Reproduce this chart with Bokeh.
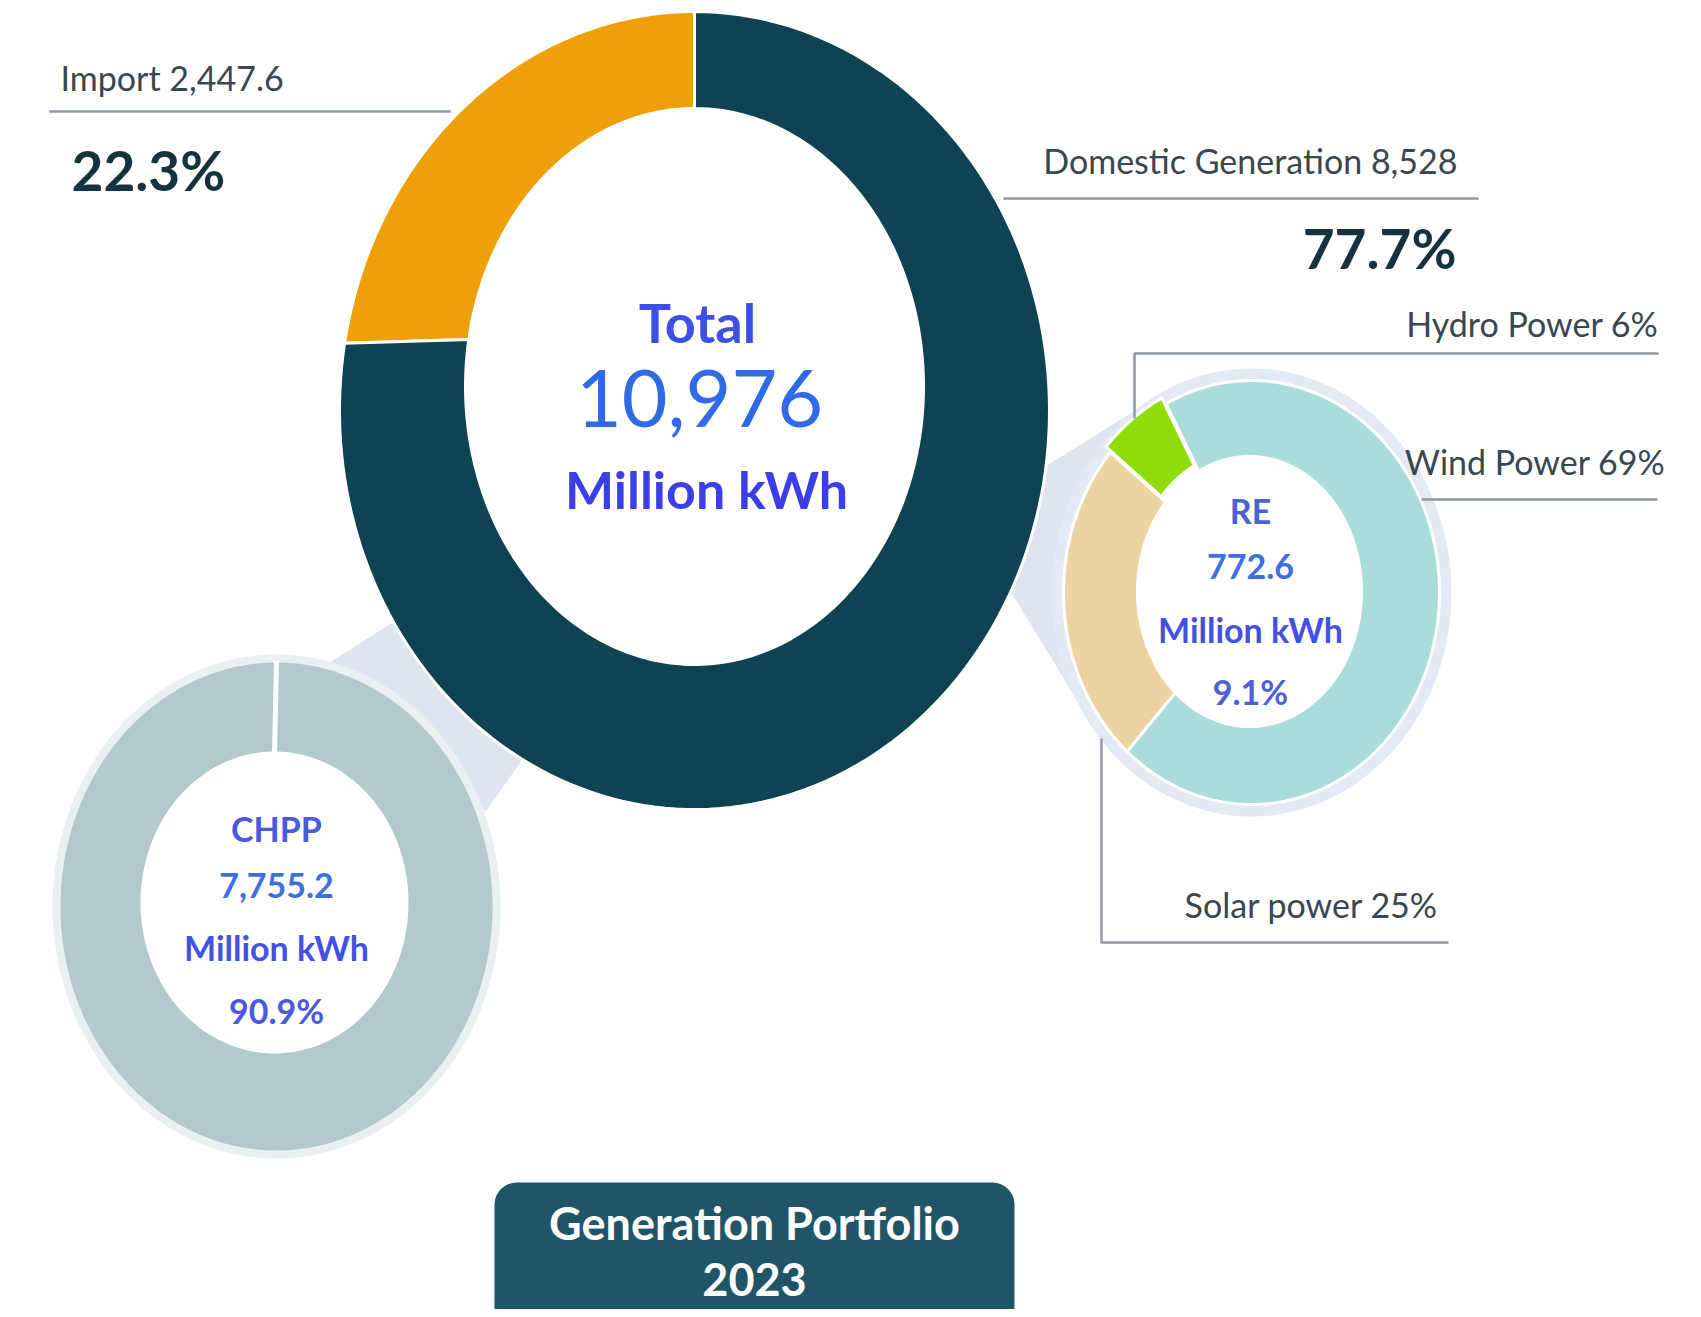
import numpy as np
from bokeh.plotting import figure
from bokeh.models import Range1d, BoxAnnotation
from bokeh.core.properties import value
from bokeh.embed import file_html
from bokeh.resources import INLINE

# ---------------- data ----------------
main_categories = ["Import", "Domestic Generation"]
main_values = [2447.6, 8528.0]
main_pct = [22.3, 77.7]
total_value = 10976

re_categories = ["Hydro Power", "Solar power", "Wind Power"]
re_pct = [6, 25, 69]
re_total = 772.6
re_share = 9.1

chpp_total = 7755.2
chpp_share = 90.9

title_lines = ["Generation Portfolio", "2023"]

# ---------------- styles ----------------
FONT = value("Lato")
MAIN_COLORS = ["#ee9f0a", "#0f4252"]
RE_COLORS = ["#8fdc08", "#ebd4a2", "#abdcdc"]
CHPP_COLOR = "#b3c9ca"
LABEL_COLOR = "#3a4650"
PCT_COLOR = "#17323f"
LINE_COLOR = "#8b9aa8"

W, H = 1693, 1309
p = figure(width=W, height=H, output_backend="svg", toolbar_location=None,
           x_range=Range1d(0, W), y_range=Range1d(H, 0),
           min_border=0, background_fill_color="white", border_fill_color="white")
p.axis.visible = False
p.grid.visible = False
p.outline_line_color = None


def ell(c, r, ang):
    t = np.radians(ang)
    return c[0] + r[0] * np.cos(t), c[1] - r[1] * np.sin(t)


def ring(a0, a1, c_out, r_out, c_in, r_in, n=160):
    t = np.linspace(a0, a1, n)
    xo, yo = ell(c_out, r_out, t)
    xi, yi = ell(c_in, r_in, t[::-1])
    return np.concatenate([xo, xi]).tolist(), np.concatenate([yo, yi]).tolist()


# geometry of the three rings
M_C, M_R = (694, 410), (355, 399)
M_CI, M_RI = (694, 386), (229, 278)
R_C, R_R = (1251, 592), (188, 212)
R_CI, R_RI = (1249, 591), (112, 135)
C_C, C_R = (276, 906), (216, 244)
C_CI, C_RI = (274, 902), (134, 151)

# ---- connector fans (drawn underneath) ----
fan_color = "#dfe5f0"
ax1, ay1 = ell(M_C, M_R, -8)
ax2, ay2 = ell(M_C, M_R, -27)
bx1, by1 = ell(R_C, (R_R[0] + 12, R_R[1] + 12), 126)
bx2, by2 = ell(R_C, (R_R[0] + 12, R_R[1] + 12), 222)
p.patch([ax1, bx1, bx2, ax2], [ay1, by1, by2, ay2], fill_color=fan_color, line_color=None)

cx1, cy1 = ell(M_C, M_R, 212)
cx2, cy2 = ell(M_C, M_R, 241)
dx1, dy1 = ell(C_C, C_R, 78)
dx2, dy2 = ell(C_C, (C_R[0] + 10, C_R[1] + 10), 22)
p.patch([cx1, dx1, dx2, cx2], [cy1, dy1, dy2, cy2], fill_color=fan_color, line_color=None)

# ---- halos (rings around the small donuts) ----
x, y = ring(0, 360, R_C, (R_R[0] + 12, R_R[1] + 12), R_C, (R_R[0] - 2, R_R[1] - 2), n=240)
p.patch(x, y, fill_color="#e4eaf4", line_color=None)
x, y = ring(0, 360, C_C, (C_R[0] + 8, C_R[1] + 8), C_C, (C_R[0] - 2, C_R[1] - 2), n=240)
p.patch(x, y, fill_color="#eaf0f2", line_color=None)

# ---- main donut ----
fr = np.array(main_values) / np.sum(main_values)
edges = 90 + 360 * np.concatenate([[0], np.cumsum(fr)])
xs, ys = [], []
for i in range(len(main_values)):
    x, y = ring(edges[i], edges[i + 1], M_C, M_R, M_CI, M_RI)
    xs.append(x); ys.append(y)
p.patches(xs, ys, fill_color=MAIN_COLORS, line_color="white", line_width=3)

# ---- RE donut ----
re_fr = np.array(re_pct) / np.sum(re_pct)
re_edges = 117 + 360 * np.concatenate([[0], np.cumsum(re_fr)])
xs, ys = [], []
for i in range(len(re_pct)):
    x, y = ring(re_edges[i], re_edges[i + 1], R_C, R_R, R_CI, R_RI)
    if i == 0:
        mid = np.radians((re_edges[0] + re_edges[1]) / 2)
        x = (np.array(x) + 7 * np.cos(mid)).tolist()
        y = (np.array(y) - 7 * np.sin(mid)).tolist()
    xs.append(x); ys.append(y)
p.patches(xs, ys, fill_color=RE_COLORS, line_color="white", line_width=3)

# ---- CHPP donut ----
chpp_fr = np.array([chpp_total]) / chpp_total
c_edges = 90 + 360 * np.concatenate([[0], np.cumsum(chpp_fr)])
x, y = ring(c_edges[0], c_edges[1], C_C, C_R, C_CI, C_RI, n=300)
p.patch(x, y, fill_color=CHPP_COLOR, line_color=None)
sx0, sy0 = ell(C_C, C_R, 90)
sx1, sy1 = ell(C_CI, C_RI, 90)
p.segment(x0=[sx0], y0=[sy0 - 2], x1=[sx1], y1=[sy1 + 2], line_color="white", line_width=5)

# ---- label leader lines ----
lc = dict(line_color=LINE_COLOR, line_width=2.5)
p.line([49, 450], [111, 111], **lc)
p.line([1003, 1478], [198, 198], **lc)
p.line([1134, 1134, 1658], [418, 353, 353], **lc)
p.line([1421, 1657], [499, 499], **lc)
p.line([1101, 1101, 1448], [738, 942, 942], **lc)

# ---- labels ----
def fmt(v):
    return f"{v:,.1f}" if v != int(v) else f"{int(v):,}"

lab = dict(text_font=FONT, text_font_size="34px", text_color=LABEL_COLOR, text_baseline="middle")
p.text(x=[60], y=[77], text=[f"{main_categories[0]} {fmt(main_values[0])}"], text_align="left", **lab)
p.text(x=[1457], y=[160], text=[f"{main_categories[1]} {fmt(main_values[1])}"], text_align="right", **lab)
p.text(x=[1658], y=[323], text=[f"{re_categories[0]} {re_pct[0]}%"], text_align="right", **lab)
p.text(x=[1665], y=[461], text=[f"{re_categories[2]} {re_pct[2]}%"], text_align="right", **lab)
p.text(x=[1438], y=[904], text=[f"{re_categories[1]} {re_pct[1]}%"], text_align="right", **lab)

pct = dict(text_font=FONT, text_font_size="55px", text_font_style="bold",
           text_color=PCT_COLOR, text_baseline="middle")
p.text(x=[71], y=[169], text=[f"{main_pct[0]}%"], text_align="left", **pct)
p.text(x=[1456], y=[247], text=[f"{main_pct[1]}%"], text_align="right", **pct)

# ---- centre texts ----
p.text(x=[697], y=[322], text=["Total"], text_font=FONT, text_font_size="54px",
       text_font_style="bold", text_color="#3d50e6", text_align="center", text_baseline="middle")
p.text(x=[699], y=[398], text=[f"{total_value:,}"], text_font=FONT, text_font_size="79px",
       text_color="#2f6ae8", text_align="center", text_baseline="middle")
p.text(x=[706], y=[488], text=["Million kWh"], text_font=FONT, text_font_size="52px",
       text_font_style="bold", text_color="#3c3fe6", text_align="center", text_baseline="middle")

small = dict(text_font=FONT, text_font_size="34px", text_font_style="bold",
             text_align="center", text_baseline="middle")
p.text(x=[1250, 1250, 1250, 1250], y=[510, 566, 629, 691],
       text=["RE", f"{re_total}", "Million kWh", f"{re_share}%"],
       text_color=["#4a62d8", "#3d6fe0", "#4450e2", "#4a62d8"], **small)
p.text(x=[276, 276, 276, 276], y=[828, 885, 947, 1010],
       text=["CHPP", fmt(chpp_total), "Million kWh", f"{chpp_share}%"],
       text_color=["#4a5ae0", "#3d6fe0", "#4450e2", "#4a5ae0"], **small)

# ---- title box ----
box = BoxAnnotation(left=494, right=1014, top=1182, bottom=1340, fill_color="#1f5566",
                    fill_alpha=1.0, line_color=None, border_radius=22, level="underlay")
p.add_layout(box)
p.text(x=[754, 754], y=[1222, 1279], text=title_lines, text_font=FONT, text_font_size="45px",
       text_font_style="bold", text_color="white", text_align="center", text_baseline="middle")

open("out.html", "w").write(file_html(p, INLINE))
